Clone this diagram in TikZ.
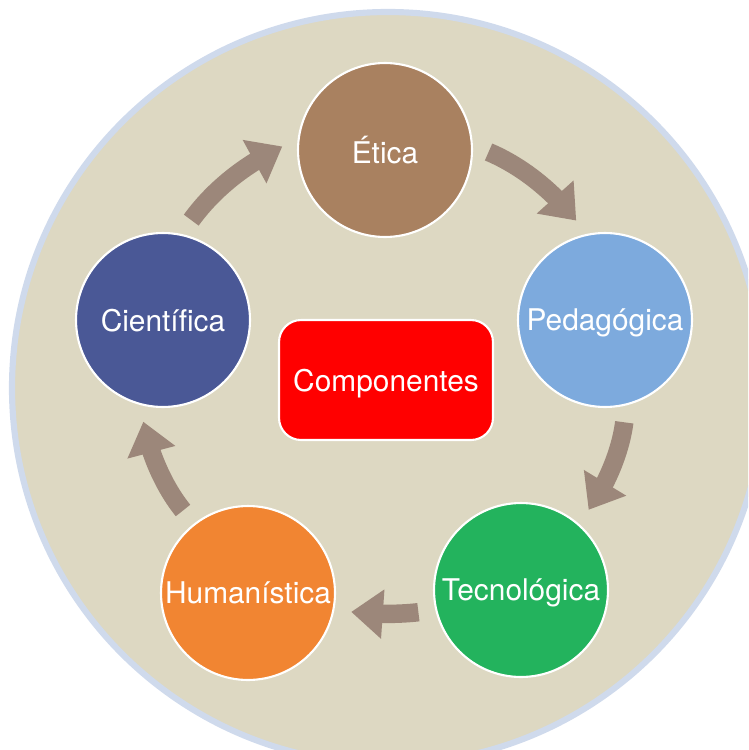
\documentclass[tikz,border=0pt]{standalone}
\usepackage{fontspec}
\setmainfont{TeX Gyre Heros}
\usetikzlibrary{arrows.meta,bending}

\definecolor{fondo}{HTML}{DDD8C2}
\definecolor{borde}{HTML}{CFDAEC}
\definecolor{flecha}{HTML}{9C877A}
\definecolor{etica}{HTML}{A98160}
\definecolor{pedag}{HTML}{7DAADD}
\definecolor{tecno}{HTML}{23B35D}
\definecolor{human}{HTML}{F18532}
\definecolor{cient}{HTML}{4A5896}

\begin{document}
\begin{tikzpicture}[x=0.02cm,y=0.02cm]
	\tikzstyle{comp} = [circle,draw=white,line width=1.2pt,minimum size=3.48cm,inner sep=0pt,text=white,text depth=0pt,font=\fontsize{17}{20}\selectfont]
	\tikzstyle{flow} = [line width=10.5pt,flecha,-{Triangle[width=27pt,length=18pt]},shorten <=3.4mm,shorten >=3.4mm]
	
		\useasboundingbox (0,0) rectangle (748,-750);
		\clip (0,0) rectangle (748,-750);
		\filldraw[fill=fondo,draw=borde,line width=3.5pt] (388,-388) circle (376);
		
		\node[comp,fill=etica] (c1) at (385,-150){Ética};
		\node[comp,fill=pedag] (c2) at (605,-320){Pedagógica};
		\node[comp,fill=tecno] (c3) at (521,-590){Tecnológica};
		\node[comp,fill=human] (c4) at (248,-593){Humanística};
		\node[comp,fill=cient] (c5) at (163,-320){Científica};
		
		\node[rectangle,rounded corners=0.44cm,draw=white,fill=red,line width=1.2pt,minimum width=4.28cm,minimum height=2.4cm,text=white,text depth=0pt,font=\fontsize{17}{20}\selectfont] (centro) at (386,-380){Componentes};
		
		\draw[flow] (c5.78) to[bend left=15] (c1.173);
		\draw[flow] (c1.3) to[bend left=15] (c2.102);
		\draw[flow] (c2.-76) to[bend left=15] (c3.49);
		\draw[flow] (c3.193) to[bend left=8] (c4.-11);
		\draw[flow] (c4.128) to[bend left=15] (c5.255);
		
\end{tikzpicture}
\end{document}
